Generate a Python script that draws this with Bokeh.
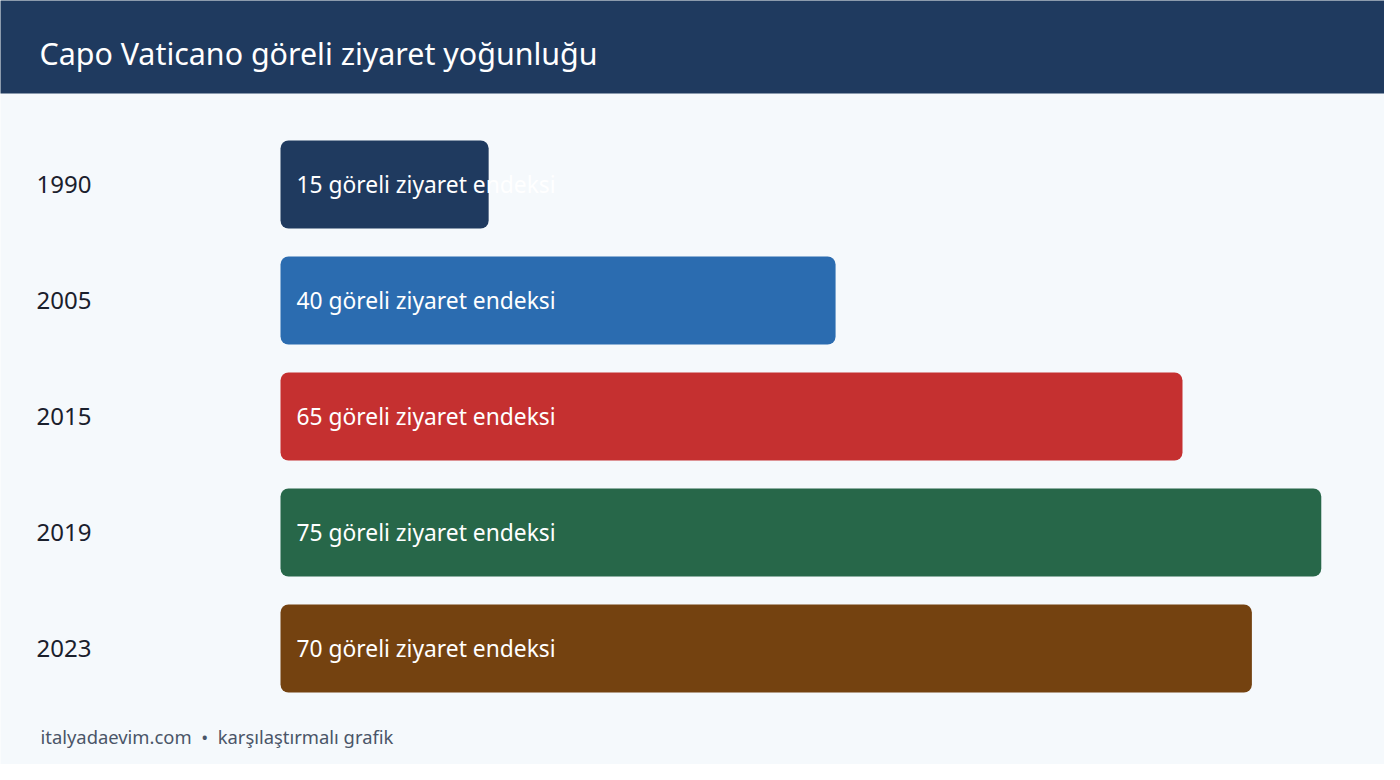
from bokeh.plotting import figure
from bokeh.models import Range1d, ColumnDataSource, Label
from bokeh.core.properties import value
from bokeh.embed import file_html
from bokeh.resources import INLINE

years = ["1990", "2005", "2015", "2019", "2023"]
values = [15, 40, 65, 75, 70]
colors = ["#1f3a5f", "#2b6cb0", "#c53030", "#276749", "#744210"]
unit_label = "göreli ziyaret endeksi"
title_text = "Capo Vaticano göreli ziyaret yoğunluğu"
footer_text = "italyadaevim.com \u00a0•\u00a0 karşılaştırmalı grafik"

W, H = 1384, 764
PX_PER_UNIT = 13.877   # bar scale in pixels per index unit
BAR_X0 = 280           # pixel x of value 0
ROW0 = 184             # pixel y of first row centre
ROW_STEP = 116
FONT = "Noto Sans"

def sx(px):  # canvas x pixel -> data x
    return (px - BAR_X0) / PX_PER_UNIT

def sy(py):  # canvas y pixel -> data y (row index units)
    return (py - ROW0) / ROW_STEP

x_range = Range1d(sx(0), sx(W))
y_range = Range1d(sy(H), sy(0))

p = figure(width=W, height=H, x_range=x_range, y_range=y_range,
           output_backend="svg", toolbar_location=None,
           min_border=0, min_border_left=0, min_border_right=0,
           min_border_top=0, min_border_bottom=0)
p.axis.visible = False
p.grid.visible = False
p.outline_line_color = None
p.background_fill_color = "#f5f9fc"
p.border_fill_color = "#f5f9fc"

# header band
p.quad(left=[sx(-5)], right=[sx(W + 5)], top=[sy(-5)], bottom=[sy(93)],
       fill_color="#1f3a5f", line_color=None)
p.add_layout(Label(x=sx(39), y=sy(53), text=title_text, text_color="#ffffff",
                   text_font=FONT, text_font_size="30.4px", text_baseline="middle",
                   text_align="left"))

rows = list(range(len(years)))
src = ColumnDataSource(dict(
    y=rows, v=values, c=colors, yr=years,
    lab=[f"{v} {unit_label}" for v in values],
))

p.hbar(y="y", left=0, right="v", height=88 / ROW_STEP, fill_color="c",
       line_color=None, border_radius=8, source=src)

p.text(x=sx(36), y="y", text="yr", source=src, text_font=value(FONT),
       text_font_size="24px", text_color="#1a202c", text_baseline="middle",
       text_align="left")
p.text(x=sx(296), y="y", text="lab", source=src, text_font=value(FONT),
       text_font_size="22.8px", text_color="#ffffff", text_baseline="middle",
       text_align="left")

p.add_layout(Label(x=sx(40), y=sy(736), text=footer_text, text_color="#4a5568",
                   text_font=FONT, text_font_size="18.4px", text_baseline="middle",
                   text_align="left"))

html = file_html(p, INLINE)
open("out.html", "w").write(html)
